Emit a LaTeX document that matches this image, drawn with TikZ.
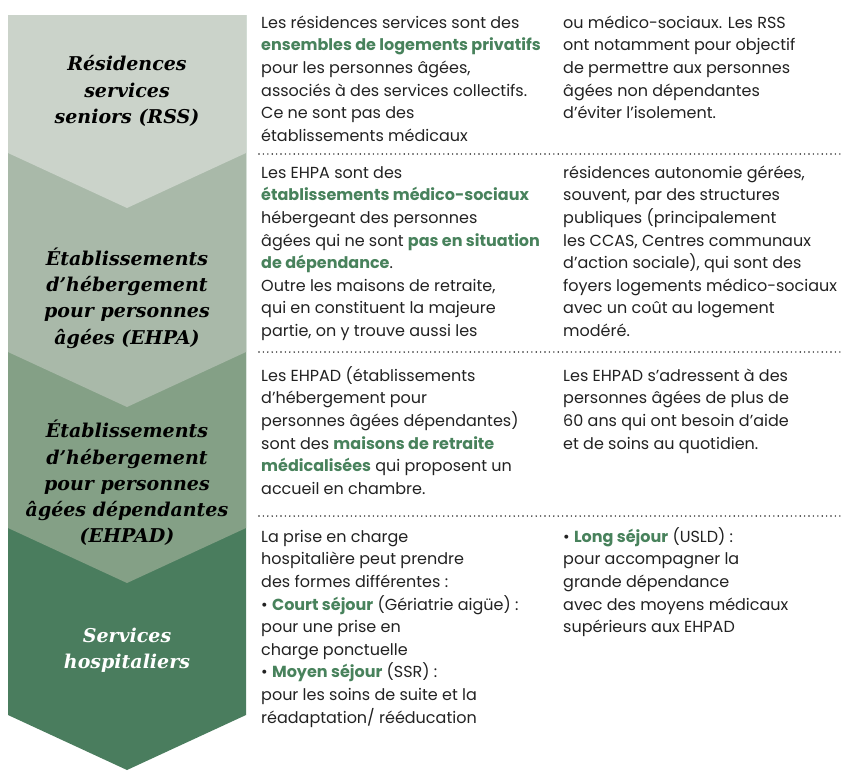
\documentclass[tikz,border=0pt]{standalone}
\usepackage{fontspec}
\setmainfont{Poppins}
\newfontfamily\titlefont{DejaVu Serif}

\definecolor{secA}{RGB}{203,211,202}
\definecolor{secB}{RGB}{169,185,169}
\definecolor{secC}{RGB}{132,160,134}
\definecolor{secD}{RGB}{74,125,94}
\definecolor{hlgreen}{RGB}{72,130,92}
\definecolor{bodyink}{RGB}{34,34,34}

\newcommand{\hl}[1]{{\bfseries\color{hlgreen}#1}}

\begin{document}
\begin{tikzpicture}[x=1pt, y=-1pt,
    title/.style={align=center, inner sep=0pt, font=\titlefont\bfseries\itshape\fontsize{19}{26.3}\selectfont},
    body/.style={anchor=north west, align=left, inner sep=0pt, text=bodyink, font=\fontsize{16}{22.6}\selectfont},
    sepline/.style={bodyink, line width=1.6pt, dash pattern=on 0pt off 4.4pt, line cap=round}]

        \fill[white] (0, 0) rectangle (844, 779);
        \useasboundingbox (0, 0) rectangle (844, 779);

        \foreach \side/\col in {715/secD, 528/secC, 352/secB, 153/secA} {
            \fill[\col] (8, 15) -- (246, 15) -- (246, \side) -- (127, \side + 55) -- (8, \side) -- cycle;
        }

        \foreach \y in {154, 352, 516} {
            \draw[sepline] (259, \y) -- (842, \y);
        }

        \node[title] (rss) at (127, 91) {Résidences\\services\\seniors (RSS)};
        \node[title] (ehpa) at (127, 298) {Établissements\\d’hébergement\\pour personnes\\âgées (EHPA)};
        \node[title] (ehpad) at (127, 483) {Établissements\\d’hébergement\\pour personnes\\âgées dépendantes\\(EHPAD)};
        \node[title, text=white] (hosp) at (127, 650) {Services\\hospitaliers};

        \node[body] (rssL) at (261, 12.2) {\strut Les résidences services sont des\\\hl{ensembles de logements privatifs}\\pour les personnes âgées,\\associés à des services collectifs.\\Ce ne sont pas des\\établissements médicaux};
        \node[body] (rssR) at (563, 12.2) {\strut ou médico-sociaux. Les RSS\\ont notamment pour objectif\\de permettre aux personnes\\âgées non dépendantes\\d’éviter l’isolement.};

        \node[body] (ehpaL) at (261, 162.2) {\strut Les EHPA sont des\\\hl{établissements médico-sociaux}\\hébergeant des personnes\\âgées qui ne sont \hl{pas en situation}\\\hl{de dépendance}.\\Outre les maisons de retraite,\\qui en constituent la majeure\\partie, on y trouve aussi les};
        \node[body] (ehpaR) at (563, 162.2) {\strut résidences autonomie gérées,\\souvent, par des structures\\publiques (principalement\\les CCAS, Centres communaux\\d’action sociale), qui sont des\\foyers logements médico-sociaux\\avec un coût au logement\\modéré.};

        \node[body] (ehpadL) at (261, 365.2) {\strut Les EHPAD (établissements\\d’hébergement pour\\personnes âgées dépendantes)\\sont des \hl{maisons de retraite}\\\hl{médicalisées} qui proposent un\\accueil en chambre.};
        \node[body] (ehpadR) at (563, 365.2) {\strut Les EHPAD s’adressent à des\\personnes âgées de plus de\\60 ans qui ont besoin d’aide\\et de soins au quotidien.};

        \node[body] (hospL) at (261, 526.2) {\strut La prise en charge\\hospitalière peut prendre\\des formes différentes :\\• \hl{Court séjour} (Gériatrie aigüe) :\\pour une prise en\\charge ponctuelle\\• \hl{Moyen séjour} (SSR) :\\pour les soins de suite et la\\réadaptation/ rééducation};
        \node[body] (hospR) at (563, 526.2) {\strut • \hl{Long séjour} (USLD) :\\pour accompagner la\\grande dépendance\\avec des moyens médicaux\\supérieurs aux EHPAD};
    \end{tikzpicture}
\end{document}
